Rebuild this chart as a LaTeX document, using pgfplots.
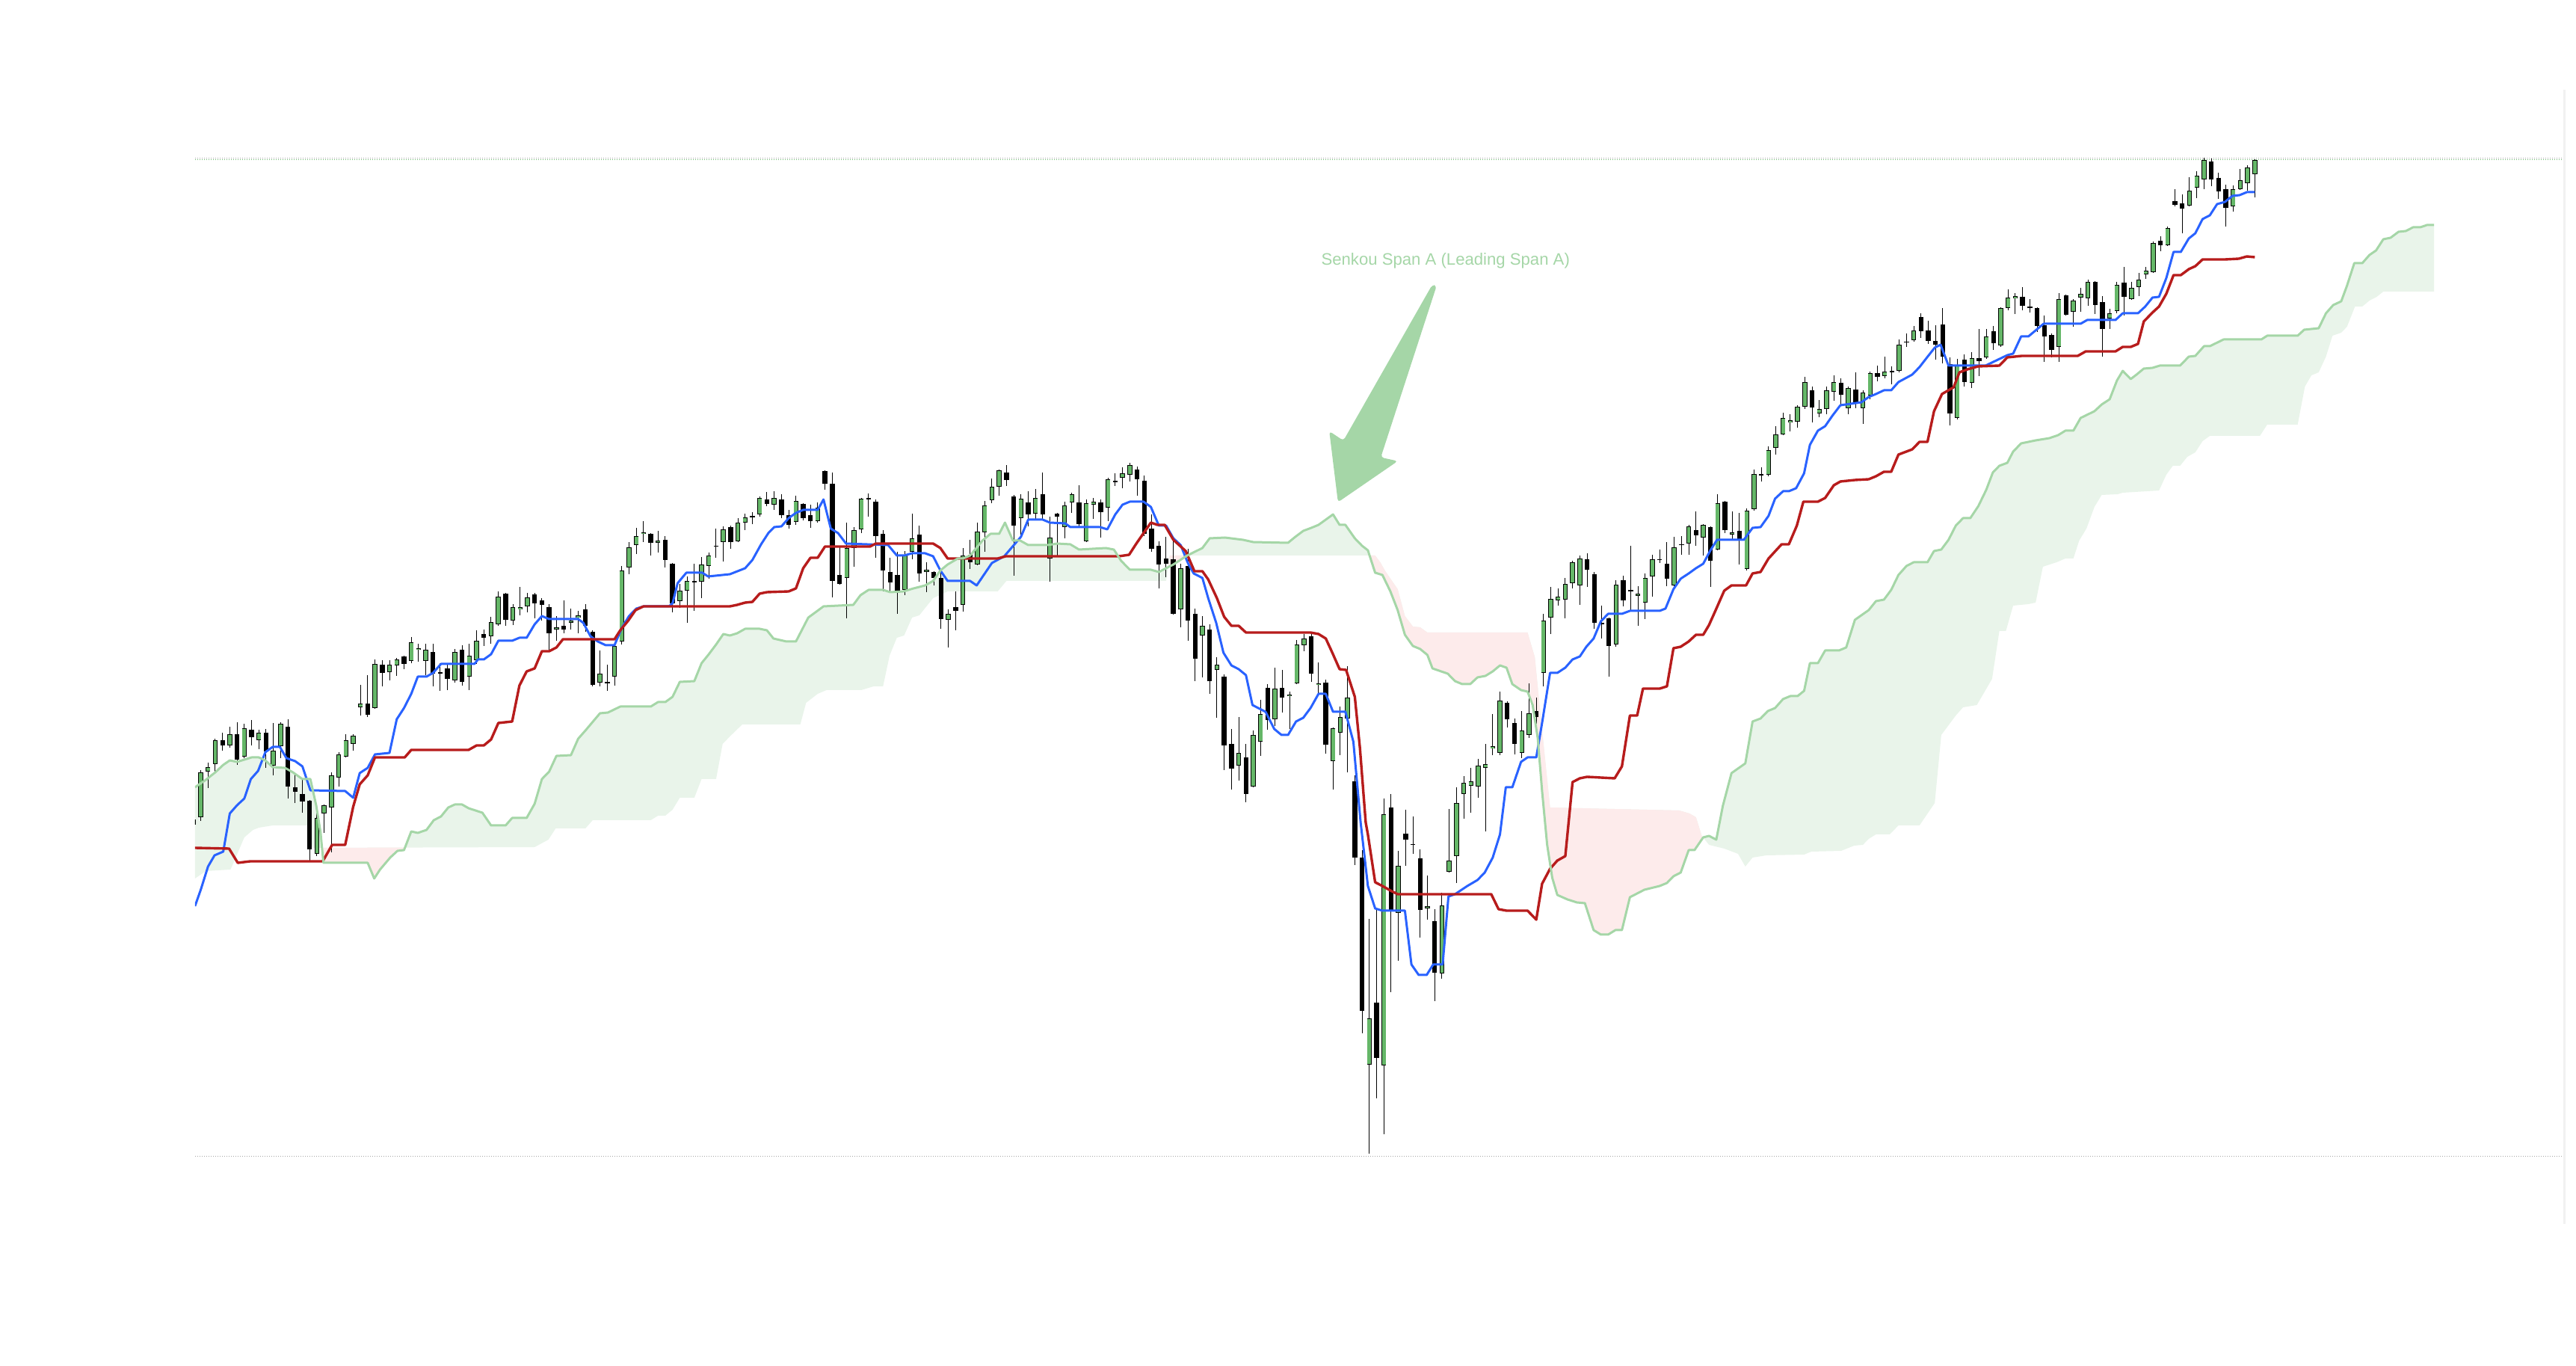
\documentclass[border=0pt]{standalone}
\usepackage{fontspec}
\setmainfont{Liberation Sans}
\usepackage{pgfplots}
\usepackage{pgfplotstable}
\pgfplotsset{compat=1.18}
\usepgfplotslibrary{fillbetween}

\definecolor{upgreen}{RGB}{101,183,104}
\definecolor{tenkan}{RGB}{41,98,255}
\definecolor{kijun}{RGB}{183,28,28}
\definecolor{spana}{RGB}{165,214,167}
\definecolor{cloudg}{RGB}{233,244,234}
\definecolor{cloudr}{RGB}{253,235,235}
\definecolor{gridc}{RGB}{165,165,165}
\definecolor{barc}{RGB}{241,241,241}

% candles: index, open, high, low, close
\pgfplotstableread{
i o h l c
0 44.4 45.4 43.5 45.1
1 45.4 51.7 44.9 51.4
2 51.5 52.7 49.3 52.1
3 52.5 55.9 51.3 55.7
4 55.7 56.7 54.3 55.0
5 55.0 57.5 54.7 56.5
6 56.5 58.1 52.4 53.1
7 53.5 57.9 53.3 57.3
8 57.1 58.4 55.0 56.1
9 55.7 57.1 54.5 56.7
10 56.7 57.2 52.0 54.2
11 52.3 58.0 51.0 54.3
12 54.9 58.1 53.3 57.9
13 57.5 58.5 47.9 49.5
14 49.4 51.1 47.3 48.8
15 48.5 50.6 46.0 47.5
16 47.6 47.7 39.5 41.1
17 40.5 46.2 40.2 45.3
18 45.9 47.1 43.3 47.0
19 46.7 51.4 40.7 51.0
20 50.7 54.1 49.5 53.8
21 53.5 56.5 53.4 55.7
22 55.2 56.5 54.3 56.3
23 60.1 63.1 59.0 60.6
24 60.6 64.4 58.8 59.1
25 60.0 66.5 59.9 65.9
26 65.8 66.4 62.9 64.7
27 64.8 66.4 63.7 65.8
28 65.7 66.7 64.3 66.5
29 66.9 67.0 65.2 65.9
30 66.3 69.5 66.0 68.8
31 67.8 68.6 66.2 68.0
32 66.3 68.6 64.4 67.8
33 67.5 68.6 62.9 64.6
34 64.7 66.0 62.3 64.8
35 65.3 66.0 62.4 63.9
36 63.7 67.9 63.4 67.5
37 67.8 68.4 63.0 63.5
38 64.2 68.6 62.4 67.0
39 66.4 70.4 65.9 69.0
40 69.9 70.5 68.3 69.4
41 69.6 72.2 68.6 71.5
42 71.2 75.6 71.0 74.9
43 75.3 75.4 71.0 71.8
44 71.7 73.9 71.1 73.5
45 73.2 76.2 72.4 73.5
46 73.6 75.4 72.8 74.8
47 75.2 75.4 72.0 74.0
48 74.4 74.7 71.7 73.8
49 73.5 73.9 67.5 70.0
50 70.5 72.3 69.0 70.8
51 71.0 74.4 70.0 70.5
52 71.4 73.3 70.5 71.7
53 72.1 73.0 70.0 72.4
54 73.2 73.9 70.2 71.0
55 70.2 70.4 62.9 63.1
56 63.4 67.7 62.9 64.6
57 63.5 65.8 62.3 63.4
58 64.2 68.4 63.0 68.3
59 68.9 79.0 68.5 78.4
60 78.8 82.2 77.9 81.5
61 81.8 84.1 80.6 83.0
62 83.3 85.0 82.2 83.5
63 83.3 83.4 80.4 82.1
64 82.1 83.7 80.8 82.4
65 82.5 83.0 78.8 79.8
66 79.3 79.4 72.8 74.0
67 74.3 76.6 73.4 75.7
68 75.7 77.6 71.4 77.0
69 76.9 79.3 73.0 77.0
70 76.9 80.2 74.7 79.2
71 79.0 80.8 77.3 80.4
72 81.6 84.0 80.1 81.7
73 82.2 84.3 79.6 83.9
74 84.2 84.4 81.3 82.2
75 82.3 85.4 82.2 84.8
76 84.8 86.0 83.8 85.5
77 85.6 86.2 84.6 85.7
78 85.9 88.3 85.6 88.1
79 87.9 88.9 87.0 87.3
80 87.2 89.0 86.5 88.1
81 87.9 88.6 85.4 85.8
82 85.8 86.5 84.0 84.5
83 84.9 88.4 84.5 87.7
84 87.3 87.4 85.1 85.4
85 85.8 87.2 84.1 85.0
86 85.0 87.5 84.8 86.8
87 91.7 91.8 89.2 90.0
88 90.0 91.5 74.8 77.0
89 77.8 81.5 76.5 76.6
90 77.4 84.8 72.0 81.4
91 81.4 84.2 78.9 83.8
92 83.9 88.1 83.4 88.0
93 88.1 88.7 85.6 87.9
94 87.6 87.9 80.1 83.0
95 83.3 83.8 75.6 78.4
96 78.2 80.1 75.6 76.8
97 77.8 80.9 72.6 75.5
98 75.8 81.0 75.1 80.5
99 80.9 86.0 79.9 82.7
100 83.2 84.4 76.9 78.0
101 78.2 79.5 75.5 78.5
102 78.2 78.3 76.4 77.4
103 77.4 78.4 70.6 71.9
104 71.8 73.2 68.1 72.6
105 73.5 75.6 70.4 73.0
106 73.8 81.4 72.9 80.4
107 80.5 82.5 78.6 79.5
108 79.2 84.8 79.1 83.6
109 83.5 87.7 80.9 87.1
110 87.8 90.7 87.4 89.6
111 89.6 91.9 88.4 91.8
112 91.5 92.5 89.7 90.5
113 88.3 88.5 77.7 84.4
114 85.4 88.6 82.9 88.0
115 87.5 89.0 84.3 85.9
116 86.0 89.3 85.2 88.1
117 88.6 91.5 85.3 85.9
118 80.0 85.6 76.9 82.8
119 86.0 86.1 80.4 85.6
120 84.2 87.6 82.7 87.1
121 87.5 88.8 86.1 88.6
122 87.5 89.8 84.1 84.6
123 82.3 87.9 82.2 87.4
124 87.2 88.1 85.3 87.6
125 87.5 87.9 82.8 86.2
126 86.8 90.8 85.0 90.6
127 90.3 91.4 89.7 90.4
128 90.8 92.2 89.4 91.4
129 91.2 92.8 90.3 92.5
130 91.9 92.3 88.4 90.6
131 90.4 91.1 83.0 83.3
132 84.0 85.9 80.9 81.3
133 81.7 82.3 76.0 79.2
134 80.0 82.9 77.5 79.3
135 79.9 82.3 72.5 72.6
136 73.2 79.3 70.8 78.7
137 79.0 81.3 69.0 71.7
138 72.6 73.3 63.6 66.6
139 69.7 72.3 64.1 71.0
140 70.5 71.2 61.9 63.6
141 65.1 66.8 58.7 65.8
142 64.2 64.5 51.7 55.0
143 55.2 57.2 49.1 51.9
144 52.3 58.8 50.3 54.0
145 53.4 55.2 47.4 48.5
146 49.5 57.0 49.4 56.4
147 55.5 61.1 53.6 59.2
148 62.7 63.2 57.1 58.4
149 58.5 65.4 57.6 62.6
150 62.7 65.1 59.4 61.4
151 61.6 62.2 57.2 61.8
152 63.3 69.1 63.2 68.5
153 68.4 69.9 67.6 69.3
154 69.6 70.1 63.5 64.6
155 63.1 66.1 61.9 63.3
156 63.4 63.8 53.9 55.1
157 52.9 57.4 49.1 57.3
158 56.7 60.2 53.7 58.8
159 58.6 65.6 51.4 61.4
160 50.2 51.0 39.0 40.0
161 40.0 41.0 16.5 19.5
162 12.3 31.8 0.4 18.5
163 20.6 33.2 7.8 13.2
164 12.2 47.9 3.0 45.8
165 46.7 48.5 22.0 32.8
166 32.6 40.9 26.2 38.9
167 43.2 46.4 38.9 42.4
168 41.8 45.5 40.5 41.7
169 39.9 41.1 29.3 33.0
170 33.2 37.6 31.7 33.5
171 31.5 33.1 20.8 24.6
172 24.5 35.3 23.8 33.6
173 38.1 46.5 38.0 39.6
174 40.2 49.4 36.6 47.3
175 48.5 50.9 45.2 50.0
176 49.6 52.0 46.0 50.2
177 49.5 53.2 48.0 52.3
178 52.0 55.2 43.5 52.5
179 54.6 59.2 53.7 54.9
180 54.0 62.2 53.7 61.0
181 60.7 60.9 57.4 58.5
182 58.0 58.6 53.8 55.2
183 54.0 59.6 53.3 57.0
184 56.4 63.3 56.0 59.3
185 59.6 61.4 57.9 58.8
186 64.7 72.6 62.9 71.7
187 72.1 76.2 69.9 74.6
188 74.4 76.0 73.7 74.9
189 74.5 77.4 72.0 76.6
190 76.7 79.7 76.0 79.5
191 76.4 80.4 73.8 80.0
192 79.9 80.7 76.2 78.5
193 77.9 78.2 70.6 71.4
194 71.3 73.7 69.3 71.4
195 72.0 72.1 64.2 68.3
196 68.5 77.1 68.2 76.5
197 77.1 77.7 73.6 74.4
198 75.7 81.7 73.1 75.8
199 75.0 76.3 71.0 75.3
200 74.1 78.0 71.9 77.4
201 77.6 80.5 74.9 79.9
202 79.8 81.2 79.4 79.9
203 79.3 82.2 76.3 77.3
204 76.4 82.9 76.3 81.5
205 81.8 83.0 80.5 81.9
206 82.0 84.5 80.5 84.3
207 83.8 86.3 81.7 83.1
208 82.8 84.6 80.4 84.5
209 84.2 84.3 76.2 79.7
210 81.2 88.6 81.1 87.4
211 87.6 87.7 83.4 83.8
212 83.2 86.3 82.5 83.5
213 83.7 86.1 79.2 82.4
214 78.6 86.7 78.4 86.4
215 86.6 91.9 86.4 91.3
216 91.2 92.2 90.3 91.3
217 91.2 95.0 91.0 94.5
218 94.8 97.7 93.9 96.6
219 96.6 99.5 96.5 98.8
220 98.2 99.3 97.0 98.5
221 98.3 100.5 97.5 100.3
222 100.3 104.3 100.0 103.6
223 102.5 103.0 98.2 100.2
224 99.4 101.2 98.9 100.0
225 100.0 103.0 99.3 102.5
226 102.3 104.5 101.1 103.6
227 103.5 104.1 100.4 101.9
228 100.1 103.0 99.3 102.8
229 102.6 104.9 100.1 100.8
230 100.1 102.5 98.0 102.2
231 101.8 105.0 101.3 104.8
232 104.8 105.8 103.7 104.3
233 104.4 107.0 104.1 105.0
234 105.0 105.7 103.3 105.1
235 105.1 109.3 104.9 108.6
236 108.9 110.1 108.3 109.0
237 109.2 111.1 109.0 110.5
238 112.3 112.8 109.5 110.4
239 110.5 111.8 108.7 109.1
240 109.1 111.2 106.6 108.6
241 111.3 113.5 106.1 107.0
242 106.0 106.9 97.8 99.4
243 98.8 106.7 98.6 105.8
244 106.6 107.3 103.0 103.6
245 103.5 107.6 102.8 106.8
246 106.8 110.7 104.4 106.4
247 106.9 110.7 106.7 109.7
248 110.4 111.1 107.9 108.8
249 108.5 113.6 108.3 113.5
250 113.5 116.0 113.2 114.9
251 114.8 115.5 112.7 115.1
252 115.0 116.3 113.2 113.8
253 113.7 114.7 112.9 113.6
254 113.5 113.6 110.3 111.1
255 111.2 112.5 106.3 109.7
256 109.9 110.1 106.9 107.9
257 108.3 115.5 106.3 114.7
258 115.2 115.3 112.5 112.6
259 113.0 114.7 111.0 114.5
260 114.9 116.2 113.0 115.4
261 114.8 117.3 113.8 117.0
262 117.0 117.1 112.7 113.9
263 114.3 115.1 107.0 110.7
264 112.1 113.4 110.7 112.8
265 113.1 117.0 112.8 116.6
266 116.9 119.0 112.5 115.0
267 114.7 117.0 114.6 116.2
268 116.3 118.2 115.1 117.3
269 118.0 119.0 117.4 118.5
270 118.3 122.4 118.2 122.2
271 122.5 123.1 121.1 121.9
272 121.9 124.4 121.8 124.2
273 127.8 129.4 127.1 127.3
274 127.5 128.7 123.5 126.8
275 127.2 131.0 127.1 129.2
276 129.6 131.8 128.2 131.2
277 130.7 133.6 129.4 133.3
278 133.1 133.5 129.8 130.7
279 130.9 131.6 128.1 129.1
280 129.4 130.0 124.4 126.9
281 127.1 129.9 126.4 129.4
282 129.4 132.1 129.3 130.6
283 130.2 132.6 129.2 132.3
284 131.4 133.4 128.3 133.3
}\candles

% conversion line (tenkan-sen)
\pgfplotstableread{
x y
0.2 33.5
1.0 35.7
2.0 38.8
2.9 40.3
4.1 40.8
5.0 45.9
6.0 47.0
7.0 47.9
7.9 50.5
8.9 51.6
9.9 54.1
10.9 54.8
11.9 54.8
12.8 53.3
14.0 52.9
15.0 52.2
16.1 49.0
20.9 48.9
22.0 48.0
22.9 51.3
24.0 52.0
25.0 53.8
27.0 54.0
28.0 58.5
29.0 60.0
30.0 61.9
30.9 64.2
32.1 64.2
33.0 64.7
34.1 65.9
38.7 65.9
39.2 66.5
40.0 66.5
41.0 67.2
42.0 69.0
43.9 69.0
44.9 69.4
45.9 69.4
47.0 71.2
48.0 72.3
49.0 71.9
53.0 71.9
53.7 71.4
54.7 69.6
55.7 68.9
56.8 68.4
58.0 68.4
59.0 70.7
60.0 72.3
61.0 73.3
62.0 73.6
65.5 73.6
66.0 74.0
66.7 76.7
67.9 78.1
70.1 78.1
70.9 77.6
73.9 77.9
76.0 78.7
77.0 79.8
78.2 81.9
79.2 83.4
80.0 84.2
81.0 84.3
82.0 85.4
83.0 86.1
84.0 86.5
86.0 86.5
86.8 87.9
87.8 84.0
88.8 83.4
89.9 82.0
95.7 81.8
96.9 80.4
97.9 80.4
99.0 80.7
100.8 80.7
101.9 80.3
102.9 78.4
103.9 77.0
107.0 77.0
107.9 76.4
110.0 79.4
111.7 80.3
114.0 82.9
115.0 85.2
117.0 85.2
118.0 84.8
120.1 84.7
120.8 84.2
124.9 84.2
125.9 83.9
127.0 85.9
128.0 87.2
129.0 87.6
130.9 87.6
131.9 86.9
133.0 84.4
134.0 84.4
135.0 82.7
136.0 81.8
137.0 79.4
137.8 78.0
139.0 77.4
139.8 74.7
140.9 71.4
141.9 67.4
143.0 65.7
144.0 65.2
145.0 64.4
145.9 60.4
147.7 59.5
148.9 57.2
149.9 56.4
150.8 56.4
151.9 58.2
152.9 58.7
153.9 60.0
155.0 61.9
156.0 61.9
157.0 59.5
158.7 59.5
159.8 55.5
160.8 44.7
161.8 36.2
162.8 33.2
163.8 32.9
166.9 32.9
167.8 25.7
168.8 24.3
169.9 24.3
170.8 25.7
172.1 25.7
172.9 34.8
173.8 35.1
175.5 36.2
176.9 37.0
177.9 38.0
179.0 40.0
180.0 43.1
180.8 49.4
181.7 49.4
182.9 52.8
183.8 53.4
185.0 53.4
185.8 58.0
186.9 64.7
187.9 64.7
189.0 65.4
190.0 66.5
191.0 66.9
191.9 68.2
192.9 69.3
193.9 71.6
194.9 72.6
196.8 72.6
197.9 73.0
202.0 73.0
202.8 73.3
203.9 75.9
204.9 77.3
206.0 78.0
207.0 78.7
208.0 79.3
209.0 81.1
209.9 82.5
213.6 82.5
214.8 84.1
215.9 84.2
217.0 85.7
217.9 88.0
219.0 89.0
219.8 89.0
220.8 89.4
221.9 91.4
222.7 95.2
223.8 97.1
224.8 97.7
225.8 99.1
226.9 100.5
229.8 100.9
230.8 101.6
231.8 102.0
232.9 102.5
233.9 102.5
234.9 103.6
236.8 104.6
237.8 105.6
239.0 107.1
239.9 108.2
240.7 108.6
241.8 105.8
246.9 105.8
249.9 107.2
250.7 107.4
251.8 109.7
252.8 109.7
254.9 111.4
260.0 111.4
260.9 111.9
264.8 111.9
265.8 112.8
267.9 112.8
268.9 113.7
269.9 114.9
270.8 115.0
271.8 117.5
272.8 121.0
273.8 121.0
274.9 122.8
275.8 123.5
276.8 125.4
277.8 125.9
278.8 127.4
279.9 127.7
280.9 128.5
281.9 128.6
282.9 129.0
284.0 129.0
}\tenkan

% base line (kijun-sen)
\pgfplotstableread{
x y
0.2 41.3
4.9 41.2
6.1 39.3
7.8 39.5
17.8 39.5
19.1 41.7
20.9 41.7
22.0 46.8
22.9 49.8
24.0 51.0
25.0 53.4
29.1 53.4
30.0 54.4
37.9 54.4
39.0 55.0
40.0 55.0
41.0 55.8
42.0 58.0
43.9 58.2
44.9 63.0
45.9 64.9
47.0 65.3
48.0 67.6
49.0 67.6
50.0 68.1
50.9 69.2
58.0 69.2
58.8 70.4
59.9 71.7
60.9 73.1
62.0 73.6
73.9 73.6
74.9 73.8
76.0 74.1
77.0 74.2
78.0 75.3
79.0 75.5
82.0 75.6
83.0 76.0
84.0 78.7
85.0 80.1
86.0 80.1
87.0 81.6
93.2 81.6
94.0 82.0
101.9 82.0
102.9 81.4
103.9 80.0
110.8 80.0
111.9 80.3
127.5 80.3
128.9 80.5
129.9 82.0
130.9 83.4
131.9 84.8
132.8 84.5
133.8 84.5
135.0 82.5
136.7 81.0
137.9 78.3
139.0 78.3
139.8 77.2
141.0 74.7
142.0 72.2
143.0 71.0
144.0 71.0
145.0 70.1
153.9 70.1
155.0 69.9
156.0 69.3
156.9 67.4
157.9 65.2
158.8 65.1
160.0 61.5
160.7 54.7
161.5 44.7
161.8 43.1
162.8 36.7
163.8 36.2
164.9 35.6
165.9 35.1
178.8 35.1
179.8 33.1
180.9 32.9
183.8 32.9
185.0 31.7
185.8 36.5
186.9 38.5
187.9 39.6
189.0 40.2
190.0 50.1
191.0 50.6
192.0 50.8
195.8 50.6
196.8 52.2
197.9 59.0
198.9 59.0
199.7 62.6
202.0 62.6
203.0 62.9
203.9 68.0
204.9 68.2
206.0 68.9
207.0 69.8
208.0 69.8
208.8 71.1
209.9 73.5
210.9 75.7
211.9 76.4
213.9 76.4
214.8 78.0
215.9 78.2
217.0 80.0
218.8 81.9
219.8 81.9
220.9 84.4
221.8 87.6
223.8 87.6
224.8 88.1
226.0 89.8
226.9 90.3
228.9 90.5
230.8 90.6
231.8 91.0
232.9 91.6
233.9 91.6
234.9 93.9
236.8 94.6
237.8 95.6
238.9 95.6
239.8 99.7
240.9 102.0
242.5 102.9
243.3 104.9
244.4 105.3
245.9 105.7
248.8 105.8
249.9 106.9
251.9 107.1
259.6 107.1
260.7 107.7
264.8 107.7
265.8 108.3
266.9 108.3
267.9 108.7
268.7 111.7
269.9 112.9
270.8 113.7
271.8 115.4
272.8 117.9
273.8 117.9
274.9 118.7
275.8 119.1
276.8 120.0
279.9 120.0
281.8 120.1
282.9 120.4
284.0 120.3
}\kijun

% leading span A
\pgfplotstableread{
x y
0.2 49.4
1.7 50.4
3.0 51.4
4.1 52.4
5.0 53.0
6.0 52.8
7.0 53.1
8.0 53.4
9.0 53.4
9.9 53.0
10.9 52.1
12.6 52.0
13.7 51.4
15.0 50.5
16.1 50.5
16.9 47.0
17.5 43.4
17.9 39.3
24.0 39.3
24.9 37.2
25.7 38.4
27.1 40.0
28.1 40.9
29.0 41.0
30.0 43.5
30.9 43.3
32.1 43.7
33.1 45.0
34.1 45.5
35.1 46.7
36.0 47.1
37.0 47.1
37.9 46.6
39.8 46.0
41.0 44.3
43.0 44.3
43.9 45.3
45.9 45.3
47.0 47.2
48.0 50.5
49.0 51.5
50.0 53.6
52.0 53.7
53.0 55.9
54.0 57.0
56.0 59.3
57.1 59.4
58.8 60.2
63.0 60.2
64.0 60.8
65.0 60.8
66.0 61.5
67.0 63.5
69.0 63.6
70.0 66.0
71.0 67.2
72.0 68.5
73.0 69.9
73.9 69.7
74.9 70.0
76.0 70.6
78.0 70.6
79.0 70.4
79.9 69.3
81.7 68.9
83.0 68.9
84.7 72.1
86.8 73.6
90.9 73.8
91.9 75.1
93.0 75.8
95.0 75.8
96.0 75.5
97.8 75.6
99.2 76.0
100.8 76.4
101.9 77.0
102.9 78.4
103.9 79.2
105.3 80.0
106.0 80.0
107.0 80.4
108.7 82.4
109.8 83.3
111.0 83.3
111.8 84.8
112.9 82.4
113.9 82.4
115.0 81.8
117.7 81.8
119.0 82.0
120.8 81.9
122.0 81.2
125.7 81.4
126.8 81.2
127.8 79.7
129.0 78.5
131.9 78.5
133.0 78.2
135.0 79.2
136.9 80.4
139.0 81.4
140.0 82.7
142.1 82.8
144.6 82.5
146.0 82.2
150.8 82.1
151.8 82.9
152.9 83.7
154.0 84.1
155.0 84.5
156.0 85.2
157.0 85.9
157.9 84.5
158.7 84.5
160.0 82.7
161.0 81.7
161.8 81.1
162.8 78.1
163.8 77.8
164.9 75.6
165.9 73.1
166.9 69.8
168.0 68.3
169.0 67.9
170.0 67.1
170.7 65.3
172.8 64.6
173.8 63.6
174.8 63.2
175.9 63.2
176.9 64.1
178.0 64.3
179.0 64.9
180.0 65.7
180.9 65.4
181.7 63.2
182.9 62.4
183.8 62.2
184.5 60.4
185.2 56.0
185.8 48.9
186.5 41.7
187.2 37.3
187.9 35.0
189.3 34.4
190.6 34.0
191.7 33.9
192.9 30.3
193.9 29.7
194.9 29.7
195.9 30.3
196.8 30.3
197.9 34.7
199.9 35.7
202.0 36.2
203.0 36.6
203.9 37.5
204.9 38.0
206.0 41.0
206.8 41.0
208.0 42.7
208.8 42.9
209.8 42.4
210.7 46.9
211.9 51.3
213.8 52.6
214.8 58.2
215.9 58.6
216.9 59.6
217.9 60.0
219.0 61.2
220.0 61.6
221.0 61.6
221.9 62.3
222.7 66.0
223.8 66.0
224.8 67.7
226.7 67.7
227.7 68.1
228.9 71.8
230.8 73.1
231.8 74.3
232.9 74.5
233.9 75.8
234.9 77.8
236.0 79.0
237.0 79.5
238.9 79.5
239.8 81.0
240.8 81.2
241.8 82.5
242.8 84.4
243.8 85.4
244.8 85.4
245.9 87.0
247.0 89.2
247.9 91.5
248.8 92.4
249.9 92.8
250.7 94.3
251.8 95.4
252.8 95.6
253.8 95.8
255.7 96.1
256.9 96.5
257.9 97.1
259.0 97.1
260.0 98.8
261.9 99.7
262.9 100.6
264.0 101.3
265.0 103.8
265.8 105.1
266.9 104.0
267.7 104.6
268.7 105.4
269.9 105.5
270.9 105.8
273.7 105.8
274.9 107.0
275.8 107.1
277.0 108.4
277.8 108.4
279.7 109.3
284.9 109.3
285.7 109.8
289.9 109.8
290.8 110.6
292.8 110.8
293.8 112.8
294.8 113.9
295.9 114.4
296.7 116.5
297.7 119.5
298.8 119.5
299.8 120.6
300.7 121.2
301.7 122.7
302.7 122.9
303.8 123.7
304.8 123.8
305.8 124.3
306.8 124.3
307.7 124.6
308.7 124.6
}\spanA

% leading span B
\pgfplotstableread{
x y
0.2 37.2
1.7 38.2
5.1 38.4
5.6 39.5
7.0 42.7
8.2 43.7
9.0 44.0
10.9 44.3
15.7 44.3
16.4 41.3
47.0 41.4
48.9 42.4
49.9 43.9
54.0 43.9
55.0 45.0
63.0 45.0
64.0 45.6
65.0 45.6
66.0 46.4
67.0 48.0
69.0 48.0
70.0 50.5
72.0 50.5
72.9 55.2
73.9 56.2
75.6 57.8
83.6 57.8
84.4 60.7
86.0 61.9
87.2 62.4
92.0 62.4
93.7 62.9
95.0 62.9
95.9 67.0
96.9 69.4
97.9 69.7
99.0 72.1
100.0 72.4
101.9 74.7
103.9 75.6
110.8 75.6
112.0 77.0
134.0 77.0
134.5 80.4
162.8 80.4
163.5 79.5
164.2 78.3
165.9 75.9
166.9 72.3
168.0 70.9
169.0 70.8
170.0 70.1
183.8 70.1
184.8 66.8
185.5 59.9
186.2 53.3
186.9 46.7
204.7 46.3
206.1 45.9
207.0 45.4
207.8 42.9
208.8 41.7
210.9 41.2
212.8 40.5
213.8 38.8
214.8 40.0
216.7 40.3
221.9 40.4
222.9 40.8
227.0 40.9
228.8 41.6
230.0 41.7
230.8 42.5
231.8 43.1
233.7 43.1
234.9 44.3
237.8 44.3
239.9 47.3
240.8 56.4
242.8 59.0
243.8 60.1
245.7 60.4
247.8 63.9
248.8 70.3
249.7 70.3
250.7 73.7
252.8 73.9
253.8 74.1
254.8 78.9
256.7 79.5
257.9 80.0
259.0 80.0
259.8 82.4
260.8 84.0
261.9 86.9
262.9 88.5
265.1 88.6
265.8 88.8
270.8 89.1
271.8 91.2
272.7 92.4
273.7 92.4
274.7 93.6
275.8 94.2
276.8 95.7
277.8 96.4
284.7 96.4
285.7 97.9
289.9 97.9
290.9 103.0
291.8 104.5
292.8 104.9
293.8 107.0
294.7 109.8
295.9 110.2
296.7 111.0
297.8 113.7
298.8 113.7
299.8 114.5
300.8 115.0
301.7 115.7
308.7 115.7
}\spanB

\begin{document}
\begin{tikzpicture}
\begin{axis}[
  at={(0,0)}, anchor=south west,
  scale only axis, width=31.68cm, height=13.36cm,
  xmin=0.22, xmax=326.5, ymin=0, ymax=133.6,
  axis line style={draw=none},
  xtick=\empty, ytick={0,133.5}, yticklabels={},
  major tick length=0pt,
  ymajorgrids,
  major grid style={gridc, line width=0.1mm, dash pattern=on 0.15mm off 0.15mm},
  candle/.style={draw=none, mark=none, forget plot},
]

% cloud
\addplot[draw=none, name path=A, forget plot] table[x=x, y=y] {\spanA};
\addplot[draw=none, name path=B, forget plot] table[x=x, y=y] {\spanB};
\addplot[fill=cloudg, draw=none, forget plot] fill between[of=A and B];
\addplot[fill=cloudr, draw=none, forget plot] fill between[of=A and B, soft clip={domain=17.6:29.2}];
\addplot[fill=cloudr, draw=none, forget plot] fill between[of=A and B, soft clip={domain=134.3:136.9}];
\addplot[fill=cloudr, draw=none, forget plot] fill between[of=A and B, soft clip={domain=162.1:207.9}];

% last price line
\addplot[upgreen, line width=0.1mm, dash pattern=on 0.15mm off 0.15mm, forget plot]
  coordinates {(0.22,133.3) (326.5,133.3)};

% wicks
\addplot[candle,
  error bars/.cd, y dir=both, y explicit, error mark=none,
  error bar style={draw=black, line width=0.1mm}]
  table[x=i, y expr={(\thisrow{h}+\thisrow{l})/2},
        y error expr={(\thisrow{h}-\thisrow{l})/2}] {\candles};

% falling bodies
\addplot[candle,
  restrict expr to domain={\thisrow{c}-\thisrow{o}}{-1000:-0.001},
  error bars/.cd, y dir=both, y explicit, error mark=none,
  error bar style={draw=black, line width=0.64mm}]
  table[x=i, y expr={(\thisrow{o}+\thisrow{c})/2},
        y error expr={max(abs(\thisrow{c}-\thisrow{o})/2,0.06)}] {\candles};

% rising bodies: outline, then fill
\addplot[candle,
  restrict expr to domain={\thisrow{c}-\thisrow{o}}{0:1000},
  error bars/.cd, y dir=both, y explicit, error mark=none,
  error bar style={draw=black, line width=0.64mm}]
  table[x=i, y expr={(\thisrow{o}+\thisrow{c})/2},
        y error expr={max(abs(\thisrow{c}-\thisrow{o})/2,0.06)}] {\candles};
\addplot[candle,
  restrict expr to domain={\thisrow{c}-\thisrow{o}}{0:1000},
  error bars/.cd, y dir=both, y explicit, error mark=none,
  error bar style={draw=upgreen, line width=0.48mm}]
  table[x=i, y expr={(\thisrow{o}+\thisrow{c})/2},
        y error expr={max(abs(\thisrow{c}-\thisrow{o})/2-0.08,0)}] {\candles};

% indicator lines
\addplot[tenkan, line width=0.3mm, line join=round, forget plot] table[x=x, y=y] {\tenkan};
\addplot[kijun, line width=0.34mm, line join=round, forget plot] table[x=x, y=y] {\kijun};
\addplot[spana, line width=0.3mm, line join=round, forget plot] table[x=x, y=y] {\spanA};

% annotation
\fill[spana, rounded corners=0.4mm]
  (axis cs:170.66,116.6) -- (axis cs:158.43,95.77) -- (axis cs:156.48,97.03)
  -- (axis cs:157.68,87.53) -- (axis cs:165.92,93.03) -- (axis cs:163.58,93.53)
  -- (axis cs:171.28,116.5) -- cycle;
\node[anchor=base, text=spana, inner sep=0pt, font=\fontsize{6.3}{7.5}\selectfont]
  at (axis cs:172.5,119.2) {Senkou Span A (Leading Span A)};
\end{axis}
\fill[barc] (31.68cm,-0.9cm) rectangle (31.71cm,14.27cm);
\pgfresetboundingbox
\useasboundingbox (-2.61cm,-2.8cm) rectangle (31.85cm,15.47cm);
\end{tikzpicture}
\end{document}
